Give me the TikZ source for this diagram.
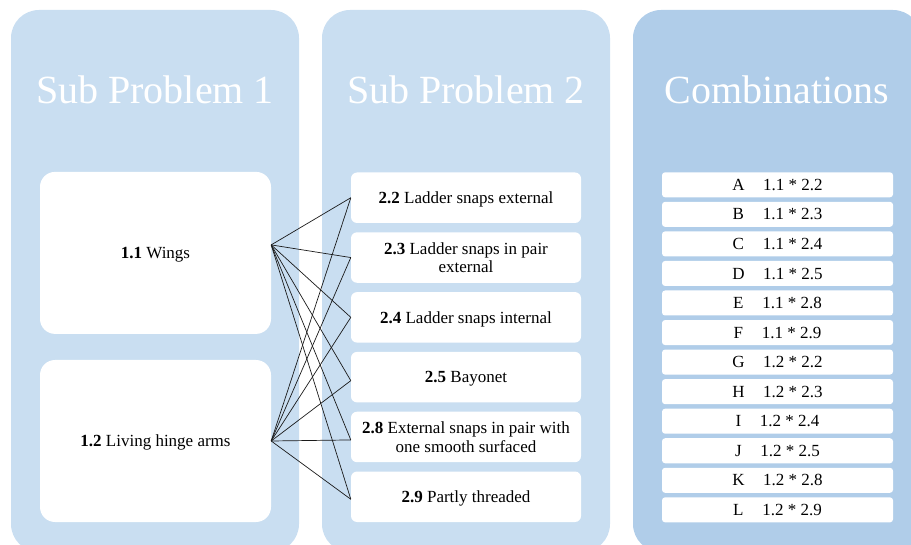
\documentclass[tikz,border=0pt]{standalone}
\usepackage{fontspec}
\setmainfont{Liberation Serif}
\definecolor{panelA}{HTML}{C9DEF1}
\definecolor{panelB}{HTML}{B0CDE9}
\definecolor{linecol}{HTML}{1A1A1A}
\begin{document}
\begin{tikzpicture}[x=1pt,y=-1pt,
  panel/.style={fill=#1, rounded corners=28pt, minimum width=288pt, minimum height=542pt, inner sep=0pt},
  leftbox/.style={fill=white, rounded corners=15pt, minimum width=231pt, minimum height=162pt, inner sep=0pt, font=\fontsize{17}{19}\selectfont, align=center, text depth=0pt},
  midbox/.style={fill=white, rounded corners=6pt, minimum width=230pt, minimum height=50.5pt, inner sep=0pt, font=\fontsize{17}{18.5}\selectfont, align=center},
  oneline/.style={text depth=0pt},
  combbox/.style={fill=white, rounded corners=3pt, minimum width=231pt, minimum height=25pt, inner sep=0pt, font=\fontsize{17}{19}\selectfont, text depth=0pt},
  title/.style={text=white, font=\fontsize{40}{48}\selectfont, anchor=base, inner sep=0pt},
  conn/.style={draw=linecol, line width=0.7pt}
]
\useasboundingbox (0,0) rectangle (911,545);
\clip (0,0) rectangle (911,545);

% panels
\node[panel=panelA] (p1) at (155,281) {};
\node[panel=panelA] (p2) at (466,281) {};
\node[panel=panelB] (p3) at (777,281) {};

% titles
\node[title] (t1) at (155,104) {Sub Problem 1};
\node[title] (t2) at (466,104) {Sub Problem 2};
\node[title] (t3) at (777,104) {Combinations};

% left boxes
\node[leftbox] (s11) at (155.5,252.9) {\textbf{1.1} Wings};
\node[leftbox] (s12) at (155.5,441) {\textbf{1.2} Living hinge arms};

% middle boxes
\node[midbox,oneline] (m22) at (466,197.75) {\textbf{2.2} Ladder snaps external};
\node[midbox] (m23) at (466,257.55) {\textbf{2.3} Ladder snaps in pair\\external};
\node[midbox,oneline] (m24) at (466,317.35) {\textbf{2.4} Ladder snaps internal};
\node[midbox,oneline] (m25) at (466,377.15) {\textbf{2.5} Bayonet};
\node[midbox] (m28) at (466,436.95) {\textbf{2.8} External snaps in pair with\\one smooth surfaced};
\node[midbox,oneline] (m29) at (466,496.75) {\textbf{2.9} Partly threaded};

% combination boxes
\foreach \l/\t [count=\i from 0] in {A/1.1 * 2.2, B/1.1 * 2.3, C/1.1 * 2.4, D/1.1 * 2.5, E/1.1 * 2.8, F/1.1 * 2.9, G/1.2 * 2.2, H/1.2 * 2.3, I/1.2 * 2.4, J/1.2 * 2.5, K/1.2 * 2.8, L/1.2 * 2.9}{
  \node[combbox] (c\i) at (777.5,{184.8+29.55*\i}) {\l\hspace{1.1em}\t};
}

% connector end points
\coordinate (a11) at ([yshift=8pt]s11.east);
\coordinate (a12) at (s12.east);
\coordinate (e22) at (m22.west);
\coordinate (e23) at (m23.west);
\coordinate (e24) at (m24.west);
\coordinate (e25) at ([yshift=-3.5pt]m25.west);
\coordinate (e28) at ([yshift=-3pt]m28.west);
\coordinate (e29) at ([yshift=-2.5pt]m29.west);

\foreach \s in {a11,a12}{
  \foreach \e in {e22,e23,e24,e25,e28,e29}{
    \draw[conn] (\s) -- (\e);
  }
}
\end{tikzpicture}
\end{document}
